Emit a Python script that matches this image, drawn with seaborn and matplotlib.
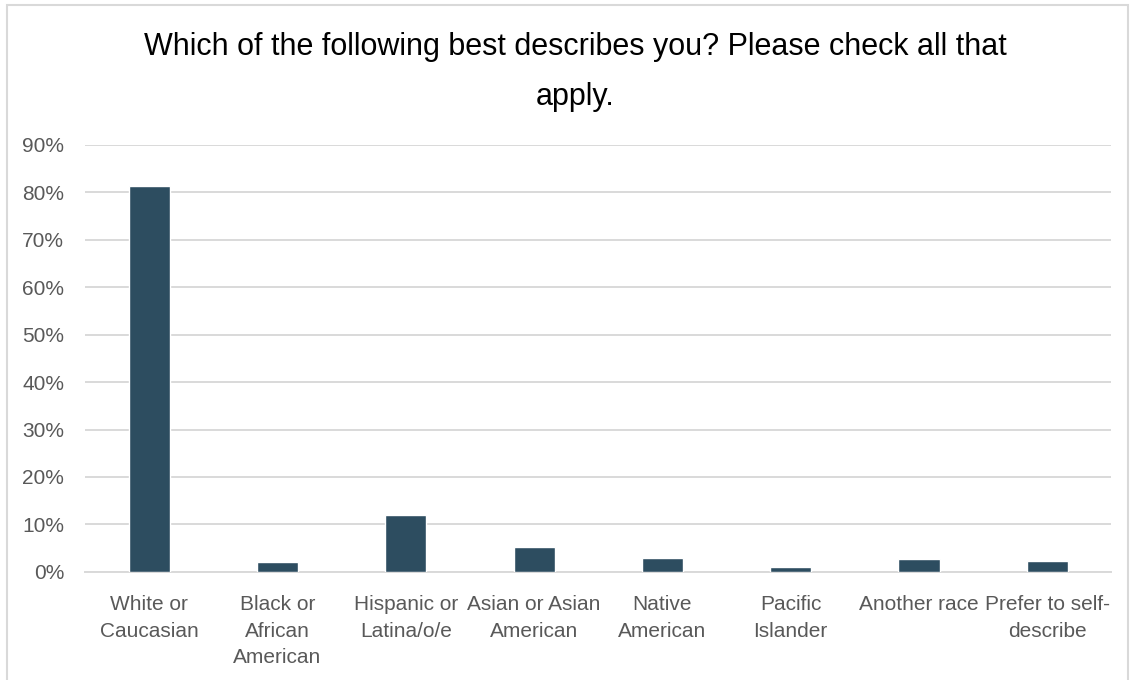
import matplotlib
matplotlib.use('Agg')
import matplotlib.pyplot as plt
import matplotlib.patches as mpatches
from matplotlib.ticker import PercentFormatter
import seaborn as sns
import pandas as pd

# Survey responses (share of respondents)
categories = ['White or\nCaucasian', 'Black or\nAfrican\nAmerican', 'Hispanic or\nLatina/o/e',
              'Asian or Asian\nAmerican', 'Native\nAmerican', 'Pacific\nIslander',
              'Another race', 'Prefer to self-\ndescribe']
shares = [0.814, 0.021, 0.120, 0.052, 0.030, 0.010, 0.027, 0.023]

TITLE = 'Which of the following best describes you? Please check all that\napply.'
BAR_COLOR = '#2D4D60'
GRID_COLOR = '#D9D9D9'
TEXT_GRAY = '#595959'

sns.set_theme(style='white')
plt.rcParams['font.family'] = ['Liberation Sans Narrow', 'Liberation Sans', 'DejaVu Sans']

df = pd.DataFrame({'Category': categories, 'Share': shares})

fig = plt.figure(figsize=(11.33, 6.8), dpi=100)
ax = fig.add_axes([0.075, 0.159, 0.906, 0.628])

sns.barplot(data=df, x='Category', y='Share', color=BAR_COLOR, width=0.32,
            saturation=1, ax=ax, zorder=3)

ax.set_ylim(0, 0.9)
ax.set_yticks([i / 10 for i in range(10)])
ax.yaxis.set_major_formatter(PercentFormatter(1.0, decimals=0))
ax.grid(axis='y', color=GRID_COLOR, linewidth=1.4, zorder=0)
for s in ['top', 'right', 'left']:
    ax.spines[s].set_visible(False)
ax.spines['bottom'].set_color(GRID_COLOR)
ax.spines['bottom'].set_linewidth(1.4)
ax.tick_params(axis='both', length=0, labelsize=15, labelcolor=TEXT_GRAY)
ax.tick_params(axis='y', pad=15)
ax.tick_params(axis='x', pad=17)
for lbl in ax.get_xticklabels():
    lbl.set_linespacing(1.5)
ax.set_xlabel('')
ax.set_ylabel('')

fig.text(0.508, 0.953, TITLE, ha='center', va='top', fontsize=22,
         color='black', linespacing=1.85)

# light frame around the chart area
fig.patches.append(mpatches.Rectangle((0.006, -0.01), 0.99, 1.003, transform=fig.transFigure,
                                      fill=False, edgecolor=GRID_COLOR, linewidth=1.5))

fig.savefig('out.png', dpi=100)
